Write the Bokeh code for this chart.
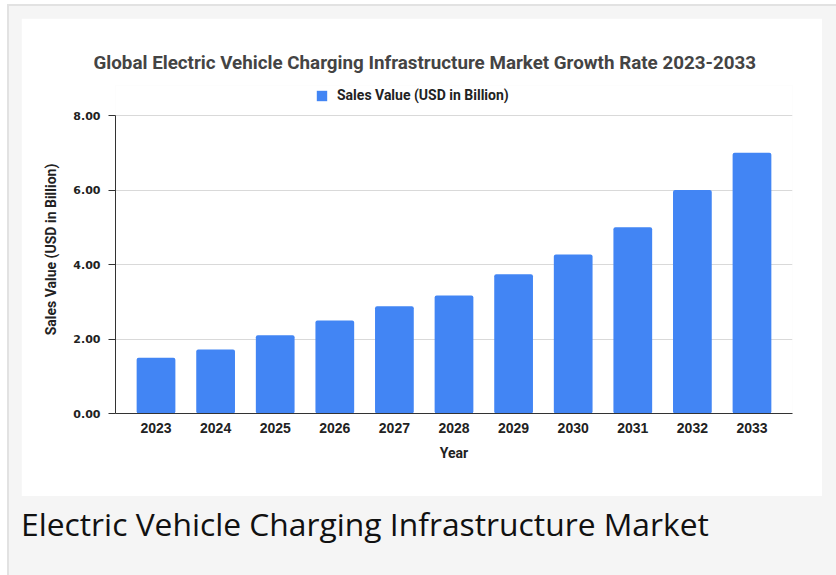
from bokeh.plotting import figure
from bokeh.models import (ColumnDataSource, FactorRange, Range1d, Legend, LegendItem,
                          PrintfTickFormatter, FixedTicker, Div, Spacer)
from bokeh.layouts import column, row
from bokeh.embed import file_html
from bokeh.resources import INLINE

years = ["2023", "2024", "2025", "2026", "2027", "2028", "2029", "2030", "2031", "2032", "2033"]
sales = [1.50, 1.72, 2.10, 2.50, 2.88, 3.17, 3.74, 4.27, 5.00, 6.00, 7.00]
y_ticks = [0, 2, 4, 6, 8]
y_max = 8

title_text = "Global Electric Vehicle Charging Infrastructure Market Growth Rate 2023-2033"
series_name = "Sales Value (USD in Billion)"
caption_text = "Electric Vehicle Charging Infrastructure Market"

LABEL_FONT = "Roboto"
TICK_FONT = "Liberation Sans"

src = ColumnDataSource(dict(year=years, sales=sales))

# frame extends a little above 8.00 so the legend can sit inside it
p = figure(
    x_range=FactorRange(factors=years, range_padding=0.0327),
    y_range=Range1d(0, y_max * 328 / 298),
    width=801, height=478,
    output_backend="svg", toolbar_location=None,
    min_border_left=94, min_border_right=30, min_border_top=67, min_border_bottom=83,
    background_fill_color="white", border_fill_color="white",
    outline_line_color=None,
)

r = p.vbar(x="year", top="sales", width=0.65, source=src,
           fill_color="#4285F4", line_color=None, border_radius=2)

# title
p.title.text = title_text
p.title.text_font = LABEL_FONT
p.title.text_font_style = "bold"
p.title.text_font_size = "18.8px"
p.title.text_color = "#444444"
p.title.align = "left"
p.title.offset = -22
p.title.standoff = 23

# legend
legend = Legend(items=[LegendItem(label=series_name, renderers=[r])],
                location=(200, 310), orientation="horizontal",
                margin=0, padding=0, border_line_color=None,
                background_fill_alpha=0,
                glyph_width=13, glyph_height=13, label_standoff=9,
                label_text_font=LABEL_FONT, label_text_font_style="bold",
                label_text_font_size="14px", label_text_color="#222222")
p.add_layout(legend)

# x axis
xa = p.xaxis[0]
xa.axis_label = "Year"
xa.axis_label_text_font = LABEL_FONT
xa.axis_label_text_font_style = "bold"
xa.axis_label_text_font_size = "14px"
xa.axis_label_text_color = "#222222"
xa.axis_label_standoff = 9
xa.major_label_text_font = TICK_FONT
xa.major_label_text_font_style = "bold"
xa.major_label_text_font_size = "14px"
xa.major_label_text_color = "#222222"
xa.major_label_standoff = 3
xa.major_tick_line_color = None
xa.minor_tick_line_color = None
xa.axis_line_color = "#333333"
xa.axis_line_width = 1

# y axis
ya = p.yaxis[0]
ya.ticker = FixedTicker(ticks=y_ticks)
ya.bounds = (0, y_max)
ya.formatter = PrintfTickFormatter(format="%.2f")
ya.axis_label = series_name
ya.axis_label_text_font = LABEL_FONT
ya.axis_label_text_font_style = "bold"
ya.axis_label_text_font_size = "14px"
ya.axis_label_text_color = "#222222"
ya.axis_label_standoff = 11
ya.major_label_text_font = "DejaVu Sans"
ya.major_label_text_font_style = "bold"
ya.major_label_text_font_size = "11px"
ya.major_label_text_color = "#222222"
ya.major_label_standoff = 8
ya.major_tick_out = 7
ya.major_tick_in = 0
ya.major_tick_line_color = "#333333"
ya.minor_tick_line_color = None
ya.axis_line_color = "#333333"

p.xgrid.grid_line_color = None
p.ygrid.grid_line_color = "#d9d9d9"
p.ygrid.ticker = FixedTicker(ticks=y_ticks)

caption = Div(text=caption_text, width=825, height=79,
              styles={"font-family": "'Open Sans', sans-serif", "font-size": "31.8px",
                      "color": "#111111", "padding-left": "7px", "padding-top": "1px",
                      "line-height": "1.36", "white-space": "nowrap"})

box = column(
    Spacer(height=12, width=825),
    row(Spacer(width=12, height=478), p),
    caption,
    styles={"background-color": "#f5f5f5", "border-left": "2px solid #e2e2e2",
            "border-top": "2px solid #e2e2e2", "border-right": "2px solid #e2e2e2"},
)

layout = column(
    Spacer(height=4, width=836),
    row(Spacer(width=7, height=571), box),
)

open("out.html", "w").write(file_html(layout, INLINE))
